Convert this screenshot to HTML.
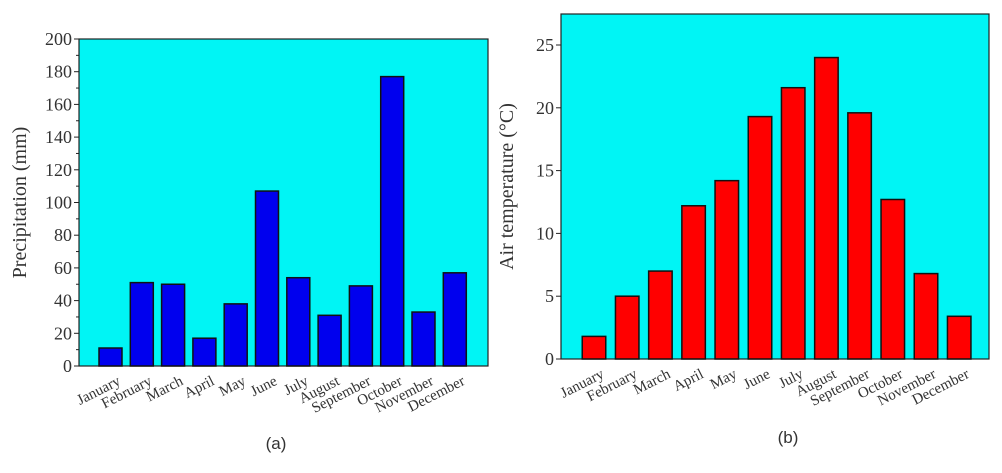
<!DOCTYPE html>
<html><head><meta charset="utf-8"><style>
html,body{margin:0;padding:0;background:#fff;}
svg text{font-family:"Liberation Serif",serif;fill:#333;}
</style></head><body>
<svg id="svg" width="1002" height="468" xmlns="http://www.w3.org/2000/svg">
<g id="chartA"></g>
<g id="chartB"></g>
<text x="276" y="449" font-size="17" text-anchor="middle" style="font-family:'Liberation Sans',sans-serif">(a)</text>
<text x="788" y="443" font-size="17" text-anchor="middle" style="font-family:'Liberation Sans',sans-serif">(b)</text>
</svg>
<script>
const months=["January","February","March","April","May","June","July","August","September","October","November","December"];
const precipValues=[11,51,50,17,38,107,54,31,49,177,33,57];
const precipTicks=[0,20,40,60,80,100,120,140,160,180,200];
const tempValues=[1.8,5,7,12.2,14.2,19.3,21.6,24,19.6,12.7,6.8,3.4];
const tempTicks=[0,5,10,15,20,25];
const NS="http://www.w3.org/2000/svg";
function mk(parent,tag,attrs){const e=document.createElementNS(NS,tag);for(const k in attrs)e.setAttribute(k,attrs[k]);parent.appendChild(e);return e;}
function draw(g,cfg){
  const {x0,x1,y0,y1,vmax,ticks,vals,color,first,step,bw,minor,title,titleX}=cfg;
  const ys=v=>y0-(v/vmax)*(y0-y1);
  const bg=mk(g,'rect',{x:x0,y:y1,width:x1-x0,height:y0-y1,fill:'#00f5f5',stroke:'#222','stroke-width':1.2});
  
  
  ticks.forEach((t,i)=>{
    const y=ys(t);
    const tl=mk(g,'line',{x1:x0-5,x2:x0,y1:y,y2:y,stroke:'#222'});
    
    
    const tx=mk(g,'text',{x:x0-7,y:y+6,'font-size':18,'text-anchor':'end'});
    tx.textContent=t;
    
    
    if(minor&&i<ticks.length-1){const ym=ys((t+ticks[i+1])/2);mk(g,'line',{x1:x0-3,x2:x0,y1:ym,y2:ym,stroke:'#222'});}
  });
  vals.forEach((v,i)=>{
    const cx=first+i*step;
    const b=mk(g,'rect',{x:cx-bw/2,y:ys(v),width:bw,height:y0-ys(v),fill:color,stroke:'#111','stroke-width':1.5});
    
    
    const lx=cx+11,ly=y0+18;
    const t=mk(g,'text',{x:lx,y:ly,'font-size':15,'text-anchor':'end',transform:`rotate(-27 ${lx} ${ly})`});
    t.textContent=months[i];
    
    
  });
  const cy=(y0+y1)/2;
  const tt=mk(g,'text',{x:titleX,y:cy,'font-size':20,'text-anchor':'middle',transform:`rotate(-90 ${titleX} ${cy})`});
  tt.textContent=title;
  
  
}
draw(document.getElementById('chartA'),{x0:79,x1:488,y0:366,y1:39,vmax:200,ticks:precipTicks,vals:precipValues,color:'#0000ee',first:110.5,step:31.3,bw:23,minor:true,title:'Precipitation (mm)',titleX:26});
draw(document.getElementById('chartB'),{x0:561,x1:989,y0:359,y1:14,vmax:25*(359-14)/(359-45),ticks:tempTicks,vals:tempValues,color:'#ff0000',first:594,step:33.2,bw:23.5,minor:false,title:'Air temperature (°C)',titleX:513});
</script>
</body></html>
